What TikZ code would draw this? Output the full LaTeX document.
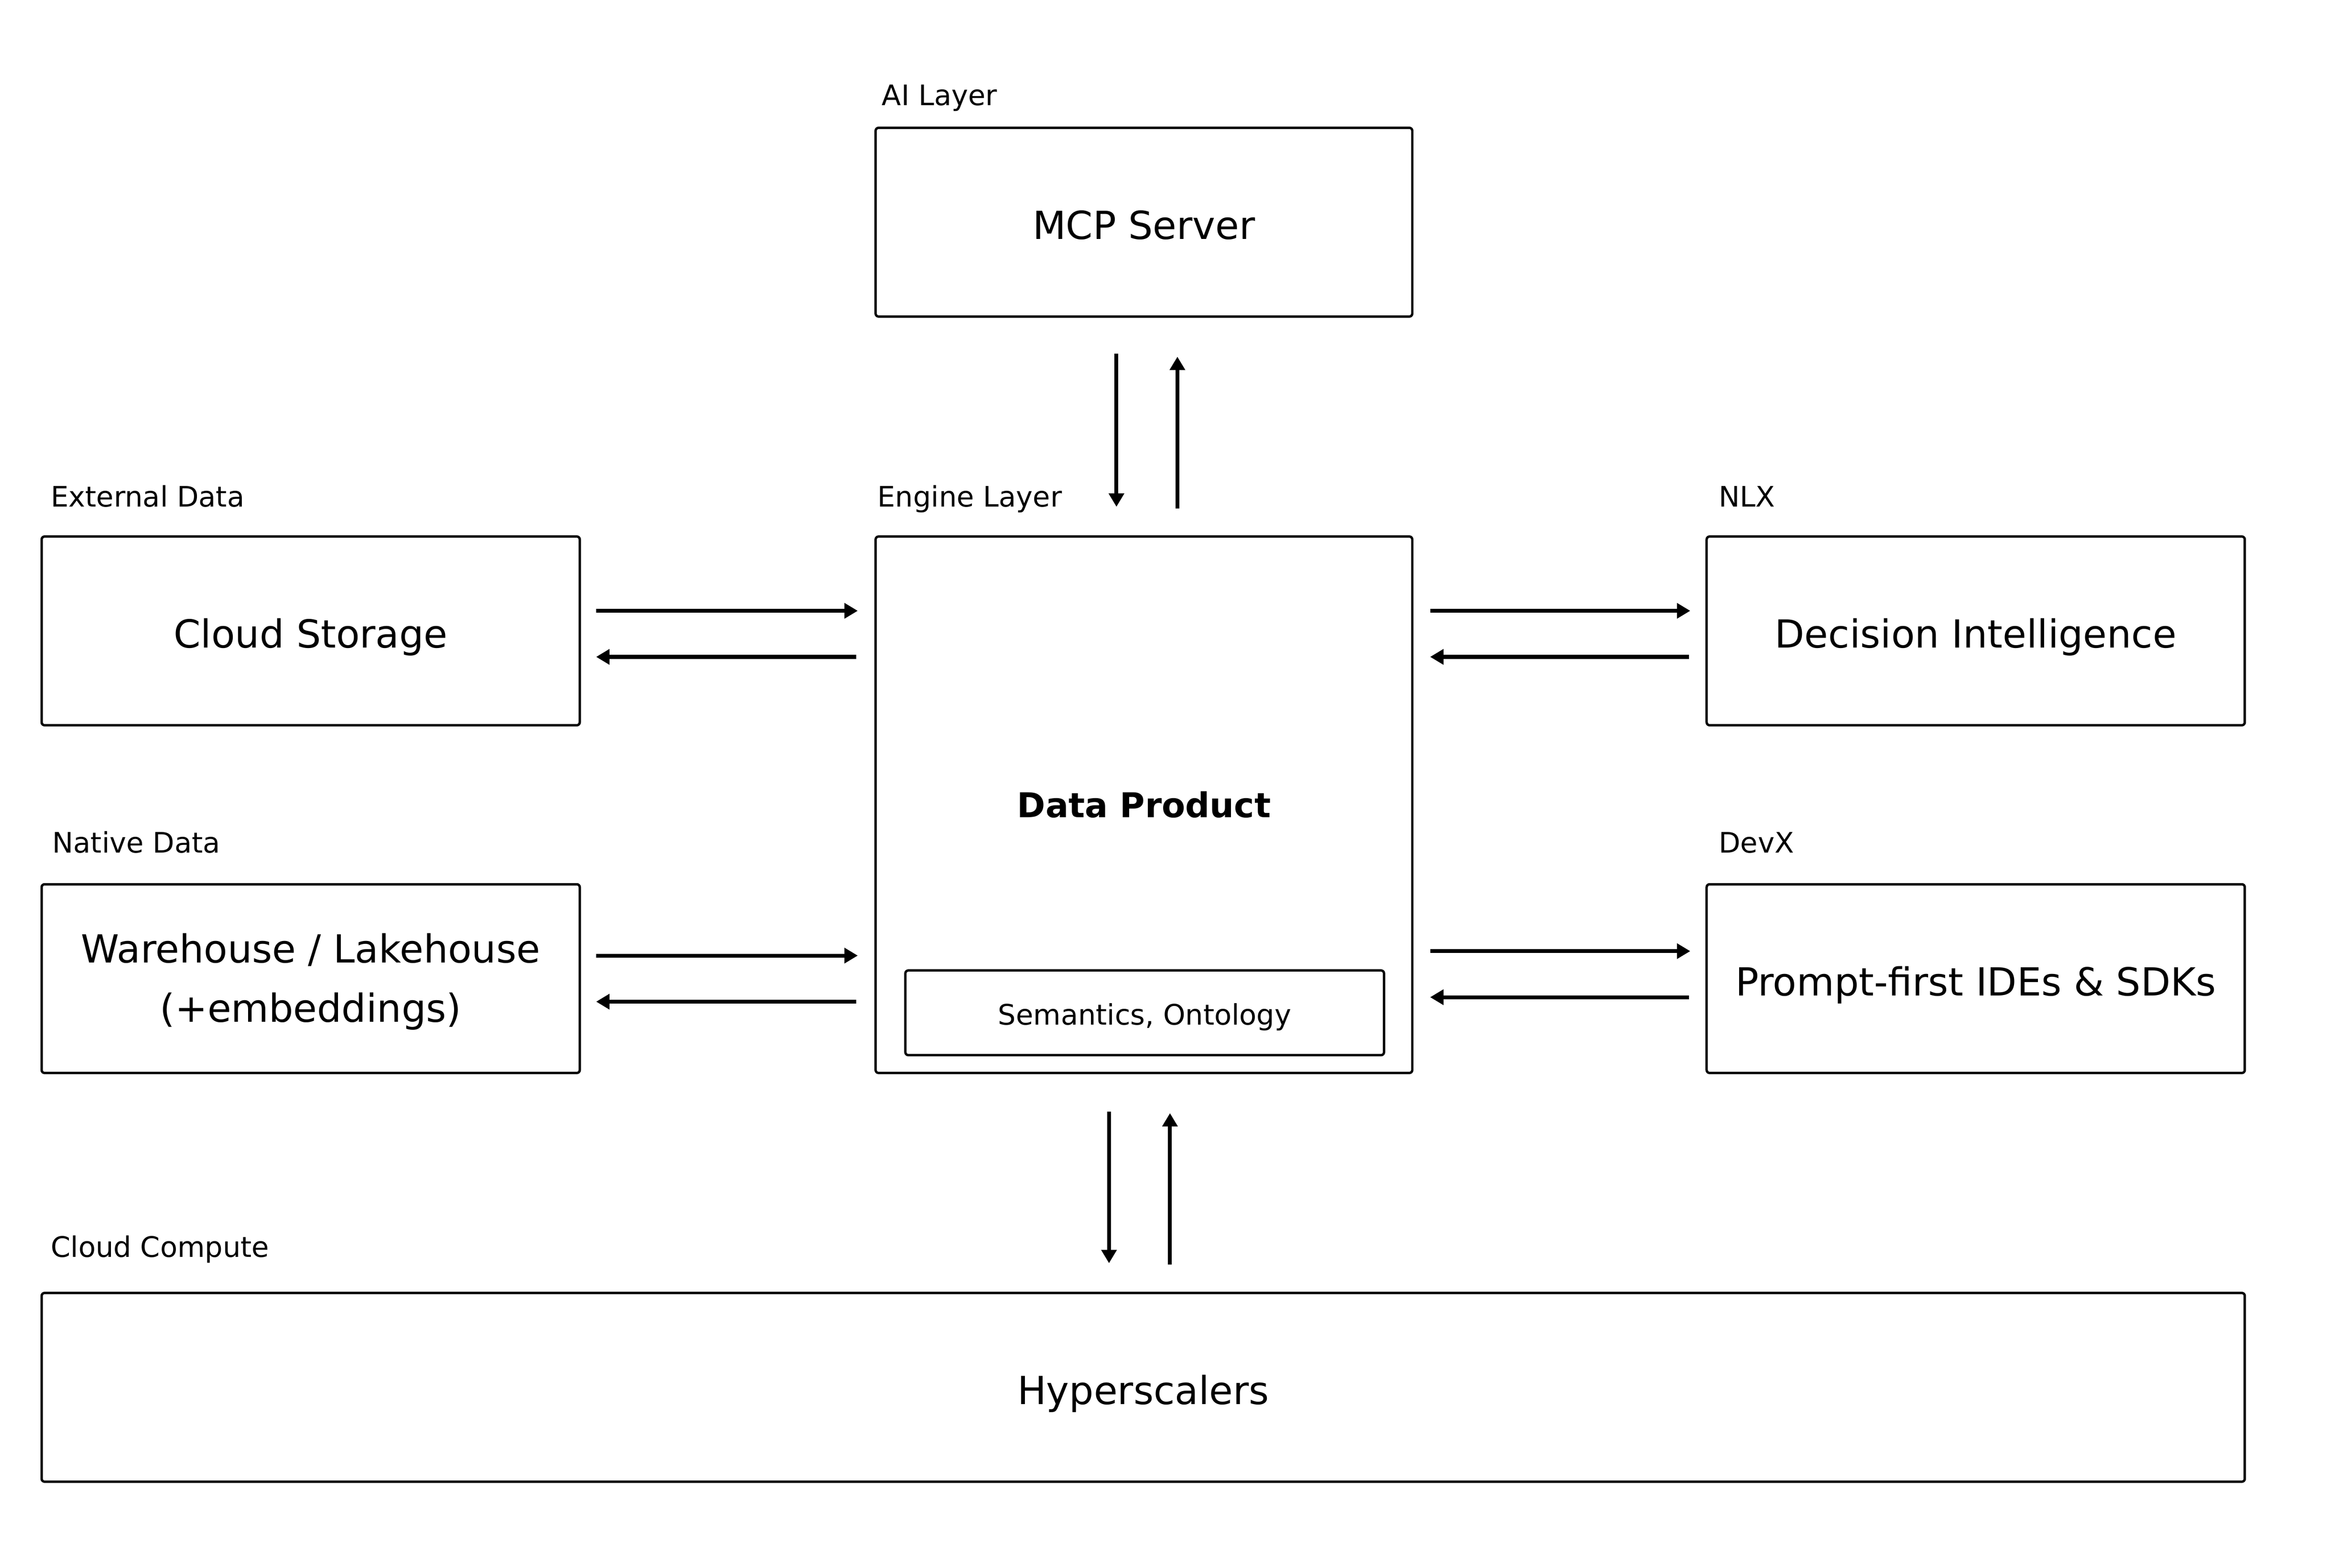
\documentclass[tikz,border=0pt]{standalone}
\usepackage{fontspec}
\setmainfont{DejaVu Sans}
\usetikzlibrary{arrows.meta}
\begin{document}
\begin{tikzpicture}[x=1pt,y=-1pt,
  box/.style={draw=black,line width=1.6pt,rounded corners=2pt,inner sep=0pt,outer sep=0pt,align=center,
    font=\fontsize{26}{40}\selectfont},
  onel/.style={text height=23pt,text depth=0pt},
  lbl/.style={anchor=base west,inner sep=0pt,font=\fontsize{19}{23}\selectfont},
  flow/.style={draw=black,line width=2.6pt,-{Triangle[length=9pt,width=10pt]}},
]
\path[use as bounding box] (0,0) rectangle (1568,1055);

% boxes
\node[box,onel,minimum width=361pt,minimum height=127pt] (mcp) at (769.5,149.5) {MCP Server};
\node[box,onel,minimum width=362pt,minimum height=127pt] (cs) at (209,424.5) {Cloud Storage};
\node[box,minimum width=361pt,minimum height=361pt,font=\bfseries\fontsize{23}{28}\selectfont,text height=16.8pt,text depth=0pt] (eng) at (769.5,541.5) {Data Product};
\node[box,onel,minimum width=362pt,minimum height=127pt] (di) at (1329,424.5) {Decision Intelligence};
\node[box,minimum width=362pt,minimum height=127pt] (wh) at (209,658.5) {\rule{0pt}{24pt}Warehouse / Lakehouse\\(+embeddings)};
\node[box,onel,minimum width=362pt,minimum height=127pt] (pf) at (1329,658.5) {Prompt-first IDEs \& SDKs};
\node[box,onel,minimum width=1482pt,minimum height=127pt] (hyp) at (769,933.5) {Hyperscalers};
\node[box,minimum width=322pt,minimum height=57pt,font=\fontsize{19}{23}\selectfont,text height=15.9pt,text depth=0pt] (sem) at (770,681.5) {Semantics, Ontology};

% labels
\node[lbl] (lai) at (593,71) {AI Layer};
\node[lbl] (lext) at (34,341) {External Data};
\node[lbl] (leng) at (590,341) {Engine Layer};
\node[lbl] (lnlx) at (1156,341) {NLX};
\node[lbl] (lnat) at (35,574) {Native Data};
\node[lbl] (ldev) at (1156,574) {DevX};
\node[lbl] (lcc) at (34,846) {Cloud Compute};

% vertical arrows: MCP <-> engine
\draw[flow,shorten <=25pt,shorten >=20pt] (mcp.south -| 751,0) -- (eng.north -| 751,0);
\draw[flow,shorten <=19pt,shorten >=27pt] (eng.north -| 792,0) -- (mcp.south -| 792,0);
% vertical arrows: engine <-> hyperscalers
\draw[flow,shorten <=26pt,shorten >=20pt] (eng.south -| 746,0) -- (hyp.north -| 746,0);
\draw[flow,shorten <=19pt,shorten >=27pt] (hyp.north -| 787,0) -- (eng.south -| 787,0);

% cloud storage <-> engine
\draw[flow,shorten <=11pt,shorten >=12pt] (cs.east |- 0,411) -- (eng.west |- 0,411);
\draw[flow,shorten <=13pt,shorten >=11pt] (eng.west |- 0,442) -- (cs.east |- 0,442);
% warehouse <-> engine
\draw[flow,shorten <=11pt,shorten >=12pt] (wh.east |- 0,643) -- (eng.west |- 0,643);
\draw[flow,shorten <=13pt,shorten >=11pt] (eng.west |- 0,674) -- (wh.east |- 0,674);
% engine <-> decision intelligence
\draw[flow,shorten <=12pt,shorten >=11pt] (eng.east |- 0,411) -- (di.west |- 0,411);
\draw[flow,shorten <=12pt,shorten >=12pt] (di.west |- 0,442) -- (eng.east |- 0,442);
% engine <-> prompt-first
\draw[flow,shorten <=12pt,shorten >=11pt] (eng.east |- 0,640) -- (pf.west |- 0,640);
\draw[flow,shorten <=12pt,shorten >=12pt] (pf.west |- 0,671) -- (eng.east |- 0,671);
\end{tikzpicture}
\end{document}
